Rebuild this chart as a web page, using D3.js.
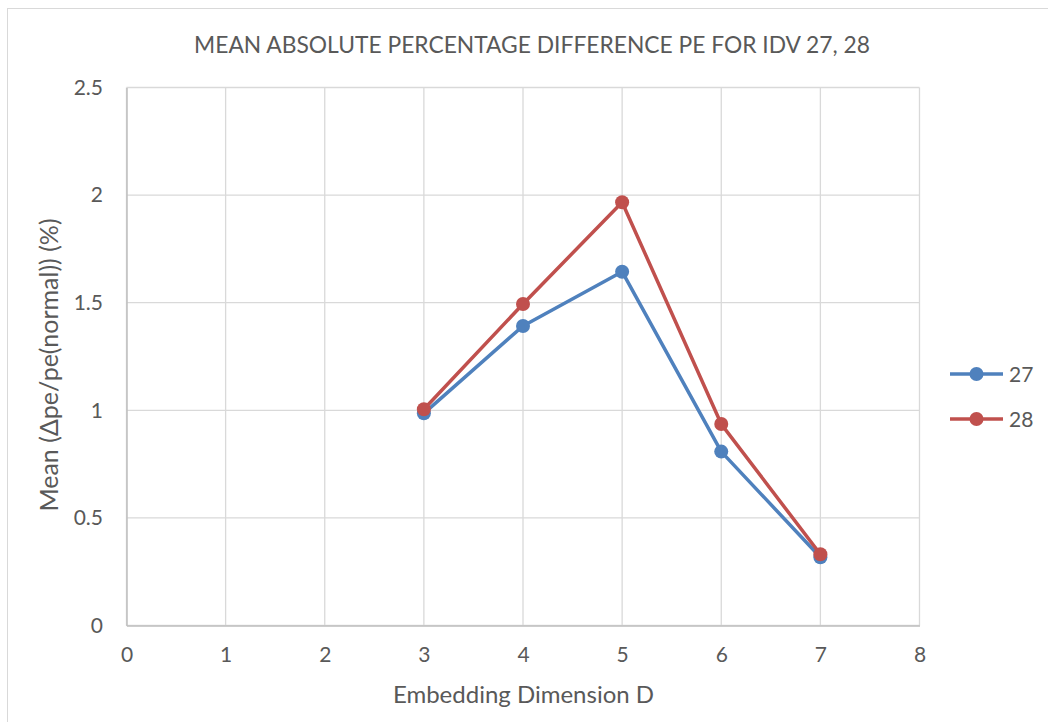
<!DOCTYPE html>
<html>
<head>
<meta charset="utf-8">
<script src="https://cdn.jsdelivr.net/npm/d3@7"></script>
<style>
  html, body { margin: 0; padding: 0; background: #fff; }
  svg { display: block; font-family: Lato, "Open Sans", sans-serif; }
</style>
</head>
<body>
<svg id="chart" width="1048" height="722"></svg>
<script>
// Embedding dimensions and mean absolute percentage difference for each IDV
const dimensions = [3, 4, 5, 6, 7];
const idv27 = [0.986, 1.392, 1.644, 0.808, 0.317];
const idv28 = [1.005, 1.494, 1.967, 0.936, 0.331];
const seriesNames = ["27", "28"];
const seriesColors = ["#4F81BD", "#C0504D"];
const xTicks = [0, 1, 2, 3, 4, 5, 6, 7, 8];
const yTicks = [0, 0.5, 1, 1.5, 2, 2.5];

const svg = d3.select("#chart");
const W = 1048, H = 722;
const plot = { left: 126.5, right: 919.5, top: 87.5, bottom: 625.5 };
const textColor = "#595959";
const fontFamily = 'Lato, "Open Sans", sans-serif';

// Chart frame
svg.append("rect")
  .attr("x", 7.5).attr("y", 8.5)
  .attr("width", W + 10).attr("height", H + 10)
  .attr("fill", "#fff").attr("stroke", "#d9d9d9").attr("stroke-width", 1);

const x = d3.scaleLinear().domain([0, 8]).range([plot.left, plot.right]);
const y = d3.scaleLinear().domain([0, 2.5]).range([plot.bottom, plot.top]);

// Gridlines
const grid = svg.append("g");
grid.selectAll("line.v").data(xTicks).join("line")
  .attr("x1", d => x(d)).attr("x2", d => x(d))
  .attr("y1", plot.top).attr("y2", plot.bottom)
  .attr("stroke", "#d9d9d9").attr("stroke-width", 1.3);
grid.selectAll("line.h").data(yTicks).join("line")
  .attr("x1", plot.left).attr("x2", plot.right)
  .attr("y1", d => y(d)).attr("y2", d => y(d))
  .attr("stroke", "#d9d9d9").attr("stroke-width", 1.3);

// Axes (line only on bottom and left)
const xAxis = svg.append("g")
  .attr("transform", `translate(0,${plot.bottom})`)
  .call(d3.axisBottom(x).tickValues(xTicks).tickSize(0).tickPadding(22).tickFormat(d3.format("d")))
  .attr("font-family", fontFamily);
xAxis.select(".domain").attr("stroke", "#bfbfbf").attr("stroke-width", 1.5);
xAxis.selectAll("text").attr("fill", textColor).style("font-size", "21px");

const yAxis = svg.append("g")
  .attr("transform", `translate(${plot.left},0)`)
  .call(d3.axisLeft(y).tickValues(yTicks).tickSize(0).tickPadding(23.5).tickFormat(d => String(d)))
  .attr("font-family", fontFamily);
yAxis.select(".domain").attr("stroke", "#bfbfbf").attr("stroke-width", 1.5);
yAxis.selectAll("text").attr("fill", textColor).style("font-size", "21px");

// Series lines and markers
const series = [idv27, idv28];
const line = d3.line().x((d, i) => x(dimensions[i])).y(d => y(d));
series.forEach((vals, s) => {
  const g = svg.append("g");
  g.append("path").datum(vals)
    .attr("d", line)
    .attr("fill", "none")
    .attr("stroke", seriesColors[s])
    .attr("stroke-width", 3.5)
    .attr("stroke-linejoin", "round");
  g.selectAll("circle").data(vals).join("circle")
    .attr("cx", (d, i) => x(dimensions[i]))
    .attr("cy", d => y(d))
    .attr("r", 7)
    .attr("fill", seriesColors[s]);
});

// Title
svg.append("text")
  .attr("x", 532).attr("y", 53)
  .attr("text-anchor", "middle")
  .attr("fill", textColor)
  .style("font-size", "22.8px")
  .text("MEAN ABSOLUTE PERCENTAGE DIFFERENCE PE FOR IDV 27, 28");

// Axis titles
svg.append("text")
  .attr("x", 523.5).attr("y", 703)
  .attr("text-anchor", "middle")
  .attr("fill", textColor)
  .style("font-size", "24px")
  .text("Embedding Dimension D");

svg.append("text")
  .attr("transform", "translate(58,365) rotate(-90)")
  .attr("text-anchor", "middle")
  .attr("fill", textColor)
  .style("font-size", "25px")
  .text("Mean (Δpe/pe(normal)) (%)");

// Legend
const legend = svg.append("g");
seriesNames.forEach((name, s) => {
  const ly = 374 + s * 45;
  legend.append("line")
    .attr("x1", 950).attr("x2", 1003).attr("y1", ly).attr("y2", ly)
    .attr("stroke", seriesColors[s]).attr("stroke-width", 3.5);
  legend.append("circle")
    .attr("cx", 976.5).attr("cy", ly).attr("r", 7)
    .attr("fill", seriesColors[s]);
  legend.append("text")
    .attr("x", 1009).attr("y", ly + 8)
    .attr("fill", textColor)
    .style("font-size", "21px")
    .text(name);
});
</script>
</body>
</html>
